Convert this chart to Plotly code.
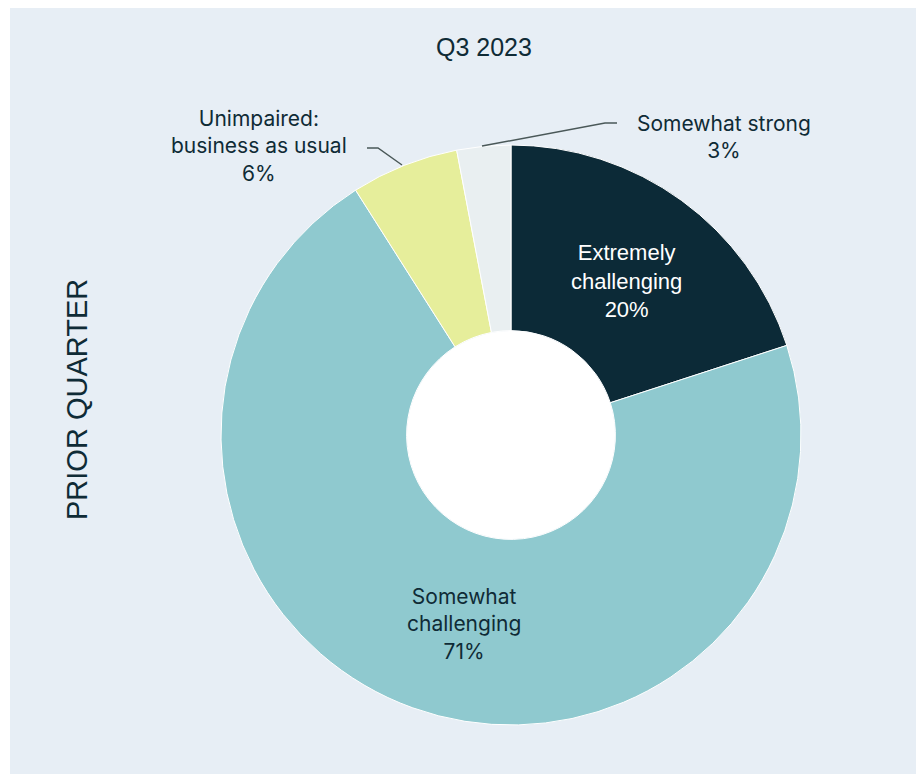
import plotly.graph_objects as go

# Survey breakdown for the prior quarter (Q3 2023)
categories = ["Extremely challenging", "Somewhat challenging",
              "Unimpaired: business as usual", "Somewhat strong"]
display_names = ["Extremely<br>challenging", "Somewhat<br>challenging",
                 "Unimpaired:<br>business as usual", "Somewhat strong"]
shares = [20, 71, 6, 3]
slice_colors = ["#0c2a37", "#8fc9cf", "#e6ee9b", "#e9eff1"]

W, H = 916, 774
PANEL = "#e7eef5"
INK = "#0f2b36"

def px(x):
    return x / W

def py(y):
    return 1 - y / H

cx, cy, r = 511, 435, 290

fig = go.Figure()
fig.add_trace(go.Pie(
    labels=categories,
    values=shares,
    sort=False,
    direction="clockwise",
    rotation=0,
    hole=0.36,
    marker=dict(colors=slice_colors, line=dict(color="#ffffff", width=1)),
    textinfo="none",
    hoverinfo="label+percent",
    showlegend=False,
    domain=dict(x=[px(cx - r), px(cx + r)], y=[py(cy + r), py(cy - r)]),
))

shapes = [
    # light panel behind the chart
    dict(type="rect", xref="paper", yref="paper", x0=px(10), x1=1, y0=0, y1=py(8),
         fillcolor=PANEL, line=dict(width=0), layer="below"),
    # white centre of the donut
    dict(type="circle", xref="paper", yref="paper",
         x0=px(cx - 104), x1=px(cx + 104), y0=py(cy + 104), y1=py(cy - 104),
         fillcolor="#ffffff", line=dict(width=0), layer="below"),
]

def leader(points):
    d = "M " + " L ".join(f"{px(x)},{py(y)}" for x, y in points)
    return dict(type="path", xref="paper", yref="paper", path=d,
                line=dict(color="#4a5858", width=1.5))

shapes.append(leader([(367, 148), (378, 148), (402, 165)]))
shapes.append(leader([(617, 123), (605, 123), (482, 146)]))

annotations = [
    dict(xref="paper", yref="paper", x=px(484), y=py(47), text="Q3 2023",
         showarrow=False, xanchor="center", yanchor="middle",
         font=dict(family="Liberation Sans, Arial", size=25, color=INK)),
    dict(xref="paper", yref="paper", x=px(77), y=py(400), text="PRIOR QUARTER",
         showarrow=False, textangle=-90, xanchor="center", yanchor="middle",
         font=dict(family="Liberation Sans, Arial", size=29, color=INK)),
]

def label(i, x, y, color, family, size):
    annotations.append(dict(
        xref="paper", yref="paper", x=px(x), y=py(y),
        text=f"{display_names[i]}<br>{shares[i]}%",
        showarrow=False, xanchor="center", yanchor="middle", align="center",
        font=dict(family=family, size=size, color=color)))

label(0, 626, 281, "#ffffff", "Liberation Sans, Arial", 22)
label(1, 464, 624, INK, "Inter", 21)
label(2, 259, 146, INK, "Inter", 21)
label(3, 724, 137, INK, "Inter", 21)

fig.update_layout(
    width=W, height=H,
    margin=dict(l=0, r=0, t=0, b=0),
    paper_bgcolor="#ffffff",
    plot_bgcolor="#ffffff",
    shapes=shapes,
    annotations=annotations,
)

fig.write_html("out.html")
